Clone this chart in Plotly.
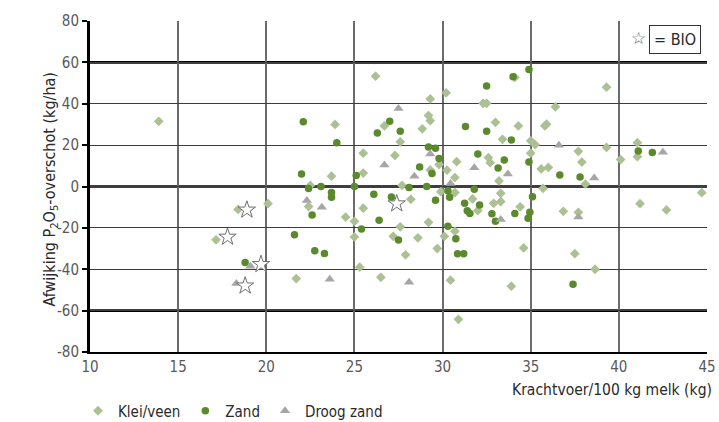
import plotly.graph_objects as go

# Krachtvoer (kg per 100 kg melk) vs. afwijking P2O5-overschot (kg/ha), per grondsoort
klei_x = [13.9, 26.2, 30.2, 29.3, 32.3, 32.5, 23.9, 29.2, 29.3, 26.7, 28.85, 33.0, 33.4, 27.6,
          25.5, 27.3, 32.6, 32.7, 30.8, 29.8, 30.25, 23.7, 25.5, 29.3, 30.7, 33.2, 27.7, 22.5,
          22.4, 24.5, 25.0, 25.5, 28.2, 29.9, 30.7, 31.7, 32.0, 32.9, 33.3, 33.3, 25.0, 27.6,
          27.2, 28.6, 29.2, 30.7, 30.1, 29.7, 27.9, 25.3, 21.7, 26.5, 30.45, 30.9, 33.9, 34.1,
          39.3, 36.4, 34.3, 35.8, 35.9, 35.0, 35.25, 37.7, 39.3, 40.1, 41.05, 41.05, 35.0, 35.6,
          36.0, 37.9, 38.1, 35.7, 44.7, 34.4, 36.85, 37.7, 41.2, 42.7, 34.6, 37.5, 38.65, 18.4,
          20.1, 17.15]
klei_y = [31.5, 53.3, 45.3, 42.3, 40.2, 40.2, 30.0, 34.3, 31.8, 29.3, 27.9, 31.0, 22.8, 21.6,
          16.1, 15.0, 14.0, 11.5, 12.0, 10.6, 7.9, 5.0, 6.5, 8.0, 4.3, 2.7, 0.5, 0.5,
          -9.7, -14.8, -16.8, -10.5, -6.2, -2.5, -2.9, -6.0, -11.6, -8.1, -3.3, -7.3, -24.4, -19.5,
          -24.1, -24.8, -17.3, -21.6, -24.1, -30.0, -33.0, -39.0, -44.5, -43.9, -45.3, -64.2, -48.2, 52.7,
          48.0, 38.5, 29.3, 29.3, 30.1, 22.1, 20.2, 17.0, 18.9, 13.0, 21.2, 14.4, 16.1, 8.5,
          9.2, 11.8, 1.2, -0.9, -3.0, -9.8, -12.0, -12.5, -8.3, -11.3, -29.7, -32.5, -40.0, -11.1,
          -8.3, -25.8]

zand_x = [32.5, 22.1, 27.0, 31.3, 26.3, 27.6, 32.5, 24.0, 29.2, 29.6, 29.8, 32.0, 33.5, 28.7,
          33.15, 22.0, 29.4, 25.1, 22.4, 23.1, 23.7, 23.7, 25.0, 22.6, 26.1, 27.1, 28.1, 29.1,
          29.6, 30.3, 30.4, 31.8, 31.25, 31.4, 31.55, 32.1, 32.8, 33.0, 26.4, 25.4, 21.6, 27.5,
          30.3, 30.75, 22.75, 23.3, 30.85, 31.2, 34.9, 34.0, 33.9, 41.1, 41.9, 34.9, 36.65, 37.8,
          35.1, 34.1, 34.95, 34.85, 37.4, 18.8]
zand_y = [48.6, 31.3, 31.5, 29.0, 25.9, 26.7, 26.7, 21.1, 19.1, 18.5, 13.5, 15.7, 12.8, 9.4,
          8.9, 6.0, 6.3, 5.3, -1.0, 0.0, -2.9, -5.2, 0.0, -13.8, -3.7, -5.1, -0.5, 0.0,
          -6.7, -2.1, -5.2, -1.3, -8.1, -11.7, -13.0, -8.9, -13.2, -16.8, -16.3, -20.5, -23.3, -25.9,
          -19.2, -25.2, -31.1, -32.4, -32.5, -32.5, 56.6, 53.0, 22.5, 17.1, 16.4, 11.8, 5.5, 4.6,
          -5.0, -13.0, -12.4, -15.3, -47.3, -36.7]

droog_x = [27.5, 29.3, 26.7, 31.8, 28.4, 30.45, 22.3, 23.15, 33.3, 23.6, 28.1, 36.6, 42.5, 38.6,
           33.7, 37.7, 19.1, 18.3]
droog_y = [37.7, 15.7, 10.4, 9.1, 5.0, 1.5, -6.8, -10.0, -16.0, -44.8, -46.3, 19.9, 16.6, 4.1,
           6.0, -14.7, -38.6, -46.9]

bio_x = [18.9, 17.8, 19.7, 18.8, 27.4]
bio_y = [-11.3, -24.4, -37.6, -48.0, -8.3]

x_ticks = [10, 15, 20, 25, 30, 35, 40, 45]
y_ticks = [-80, -60, -40, -20, 0, 20, 40, 60, 80]
y_ticktext = ["-80", "-60", "-40", "-20", "0", "20", "40", "60", "80"]
heavy_lines = [-60, 0, 60]

FONT = "DejaVu Sans Condensed, sans-serif"
W, H = 719, 422
L, R, T, B = 90, 12, 21, 70
pw, ph = W - L - R, H - T - B


def px(x):
    return (x - L) / pw


def py(y):
    return (H - B - y) / ph


def font(size, color):
    return dict(family=FONT, size=size, color=color)


fig = go.Figure()
fig.add_trace(go.Scatter(x=klei_x, y=klei_y, mode="markers", name="Klei/veen",
                         marker=dict(symbol="diamond", size=7.5, color="#abc194")))
fig.add_trace(go.Scatter(x=zand_x, y=zand_y, mode="markers", name="Zand",
                         marker=dict(symbol="circle", size=7.5, color="#5a8a2b")))
fig.add_trace(go.Scatter(x=droog_x, y=droog_y, mode="markers", name="Droog zand",
                         marker=dict(symbol="triangle-up", size=9, color="#a6a6a6")))
fig.add_trace(go.Scatter(x=bio_x, y=bio_y, mode="markers", name="BIO", showlegend=False,
                         marker=dict(symbol="star", size=13, color="white",
                                     line=dict(color="#6e6e6e", width=1))))

for v in heavy_lines:
    fig.add_shape(type="line", xref="paper", yref="y", x0=0, x1=1, y0=v, y1=v,
                  line=dict(color="black", width=2.6), layer="below")

fig.add_annotation(text="Afwijking P<sub>2</sub>O<sub>5</sub>-overschot (kg/ha)",
                   xref="paper", yref="paper", x=px(37), y=py(190), textangle=-90,
                   showarrow=False, font=font(16, "#2a2a2a"))
fig.add_annotation(text="Krachtvoer/100 kg melk (kg)", xref="paper", yref="paper",
                   x=px(714), y=py(390), xanchor="right", yanchor="middle",
                   showarrow=False, font=font(15.5, "#2a2a2a"))
# BIO key in the top-right corner of the plot
fig.add_annotation(text="☆", xref="paper", yref="paper", x=px(638), y=py(38),
                   xanchor="center", yanchor="middle",
                   showarrow=False, font=dict(family="DejaVu Sans", size=17, color="#666666"))
fig.add_annotation(text="= BIO", xref="paper", yref="paper", x=px(701), y=py(40),
                   xanchor="right", yanchor="middle", showarrow=False,
                   bordercolor="#333333", borderwidth=1, borderpad=4, bgcolor="white",
                   font=font(16, "#2a2a2a"))

fig.update_layout(
    width=W, height=H,
    margin=dict(l=L, r=R, t=T, b=B, pad=0, autoexpand=False),
    paper_bgcolor="white", plot_bgcolor="white",
    font=font(15, "#595959"),
    showlegend=True,
    legend=dict(orientation="h", x=px(78), xanchor="left", y=py(411), yanchor="middle",
                font=font(15, "#2a2a2a"),
                bgcolor="rgba(0,0,0,0)", itemwidth=30, traceorder="normal"),
    xaxis=dict(range=[10, 45], tickvals=x_ticks, showgrid=True, gridcolor="#6b6b6b",
               gridwidth=1.6, zeroline=False, showline=True, linecolor="black", linewidth=2,
               ticks="", tickfont=font(15, "#595959")),
    yaxis=dict(range=[-80, 80], tickvals=y_ticks, ticktext=y_ticktext, showgrid=True,
               gridcolor="#3c3c3c", gridwidth=1.3, zeroline=False, showline=True,
               linecolor="black", linewidth=3, ticks="outside", ticklen=5, tickwidth=1.5,
               tickcolor="black", tickfont=font(15, "#595959")),
)

fig.write_html("out.html")
